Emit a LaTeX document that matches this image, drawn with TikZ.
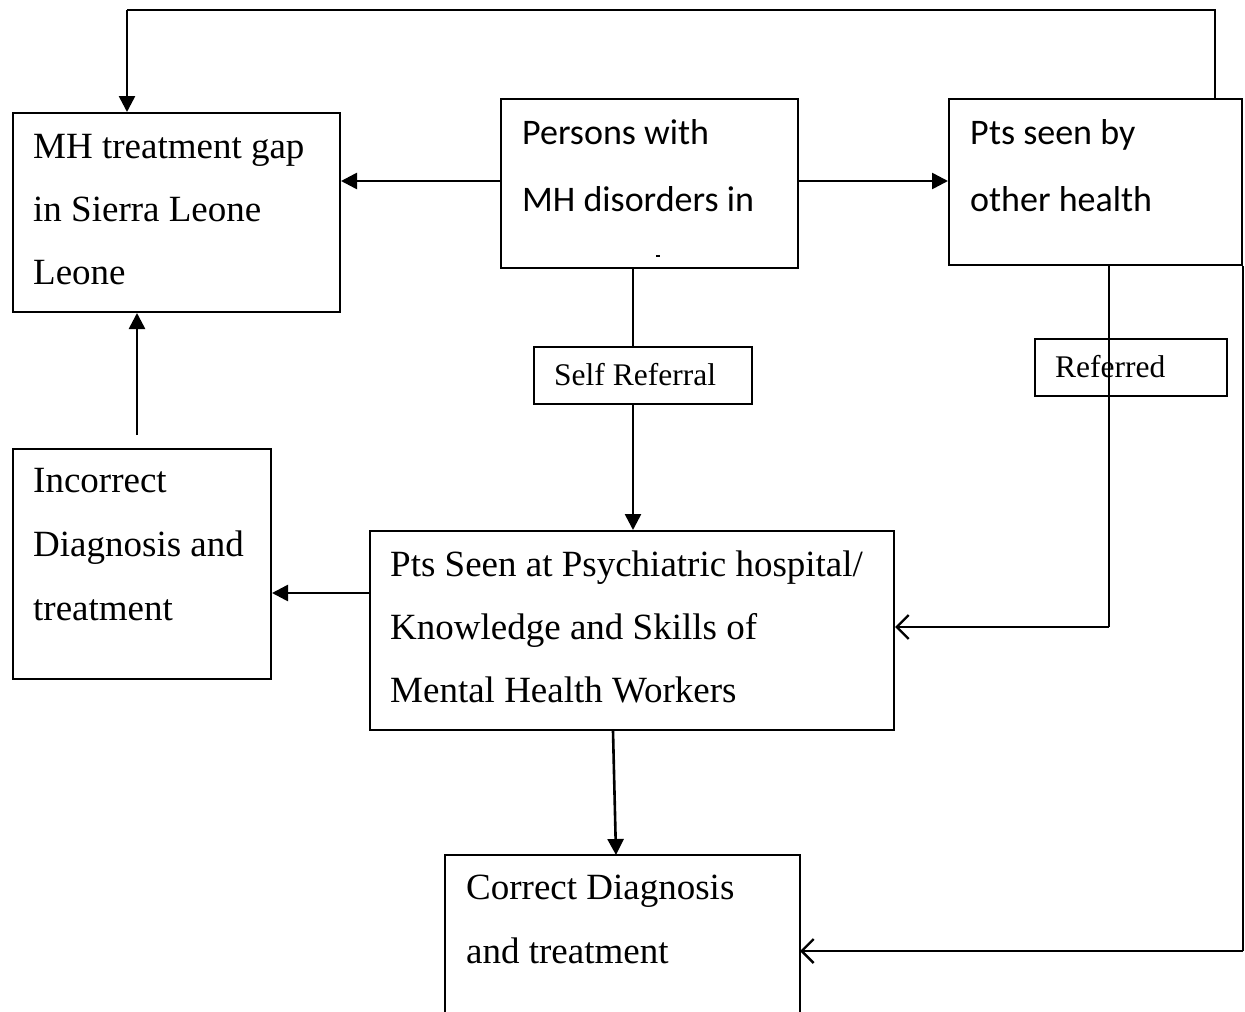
\documentclass[tikz,border=0pt]{standalone}
\usepackage{fontspec}
\setmainfont{Liberation Serif}
\newfontfamily\calib{Carlito}
\usetikzlibrary{arrows.meta}
\tikzset{
  box/.style={draw, line width=2pt, inner sep=0pt, anchor=north west},
  arr/.style={line width=2.6pt, -{Triangle[length=16pt,width=16pt]}},
  oarr/.style={line width=2.6pt, -{Straight Barb[length=12pt,width=24pt,line width=2.4pt]}},
  thinline/.style={line width=1.5pt},
  midline/.style={line width=2.4pt},
  ser/.style={anchor=base west, inner sep=0pt, font=\fontsize{37}{44}\selectfont},
  sersmall/.style={anchor=base west, inner sep=0pt, font=\fontsize{31.5}{38}\selectfont},
  san/.style={anchor=base west, inner sep=0pt, font=\calib\fontsize{36}{43}\selectfont}
}
\begin{document}
\begin{tikzpicture}[x=1pt,y=-1pt]
\useasboundingbox (0,0) rectangle (1245,1012);
\fill[white] (0,0) rectangle (1245,1012);

% boxes
\node[box, minimum width=327pt, minimum height=199pt] (mh) at (12,112) {};
\node[box, minimum width=297pt, minimum height=169pt] (pers) at (500,98) {};
\node[box, minimum width=293pt, minimum height=166pt] (ptso) at (948,98) {};
\node[box, minimum width=218pt, minimum height=57pt] (selfr) at (533,346) {};
\node[box, minimum width=192pt, minimum height=57pt] (refd) at (1034,338) {};
\node[box, minimum width=258pt, minimum height=230pt] (inc) at (12,448) {};
\node[box, minimum width=524pt, minimum height=199pt] (psych) at (369,530) {};
\node[box, draw=none, minimum width=353pt, minimum height=157pt] (corr) at (445,855) {};
\draw[line width=2pt] (corr.south west) |- (corr.north east) -- (corr.south east);

% texts
\node[ser] (mh1) at (33,158) {MH treatment gap};
\node[ser] (mh2) at (33,221) {in Sierra Leone};
\node[ser] (mh3) at (33,284) {Leone};
\node[san] (pe1) at (522,144) {Persons with};
\node[san] (pe2) at (522,211) {MH disorders in};
\node[san] (po1) at (970,144) {Pts seen by};
\node[san] (po2) at (970,211) {other health};
\node[sersmall] (sr) at (554,385) {Self Referral};
\node[sersmall] (rf) at (1055,377) {Referred};
\node[ser] (in1) at (33,492) {Incorrect};
\node[ser] (in2) at (33,556) {Diagnosis and};
\node[ser] (in3) at (33,620) {treatment};
\node[ser] (ps1) at (390,576) {Pts Seen at Psychiatric hospital/};
\node[ser] (ps2) at (390,639) {Knowledge and Skills of};
\node[ser] (ps3) at (390,702) {Mental Health Workers};
\node[ser] (co1) at (466,899) {Correct Diagnosis};
\node[ser] (co2) at (466,963) {and treatment};

% small mark in persons box
\draw[line width=1.2pt] (656,256) -- (660,256);

% coordinates
\coordinate (tr) at (1215,10);
\coordinate (tl) at (127,10);
\coordinate (sx) at (633,0);
\coordinate (py) at (0,593);
\coordinate (c1) at (613,0);
\coordinate (c2) at (616,0);
\coordinate (ix) at (137,435);
\coordinate (rc) at (1109,627);
\coordinate (br) at (0,951);
\coordinate (ay) at (0,181);

% connectors
\draw[arr] (pers.west |- ay) -- (mh.east |- ay);
\draw[arr] (pers.east |- ay) -- (ptso.west |- ay);
\draw[midline] (pers.south -| sx) -- (selfr.north -| sx);
\draw[arr] (selfr.south -| sx) -- (psych.north -| sx);
\draw[arr] (psych.west |- py) -- (inc.east |- py);
\draw[arr] (ix) -- (mh.south -| ix);
\draw[arr] (psych.south -| c1) -- (corr.north -| c2);
\draw[thinline] (ptso.north -| tr) -- (tr) -- (tl);
\draw[arr] (tl) -- (mh.north -| tl);
\draw[thinline] (ptso.south -| rc) -- (rc);
\draw[oarr] (rc) -- (psych.east |- rc);
\draw[midline] (ptso.south east) -- (ptso.south east |- br);
\draw[oarr] (ptso.south east |- br) -- (corr.east |- br);
\end{tikzpicture}
\end{document}
